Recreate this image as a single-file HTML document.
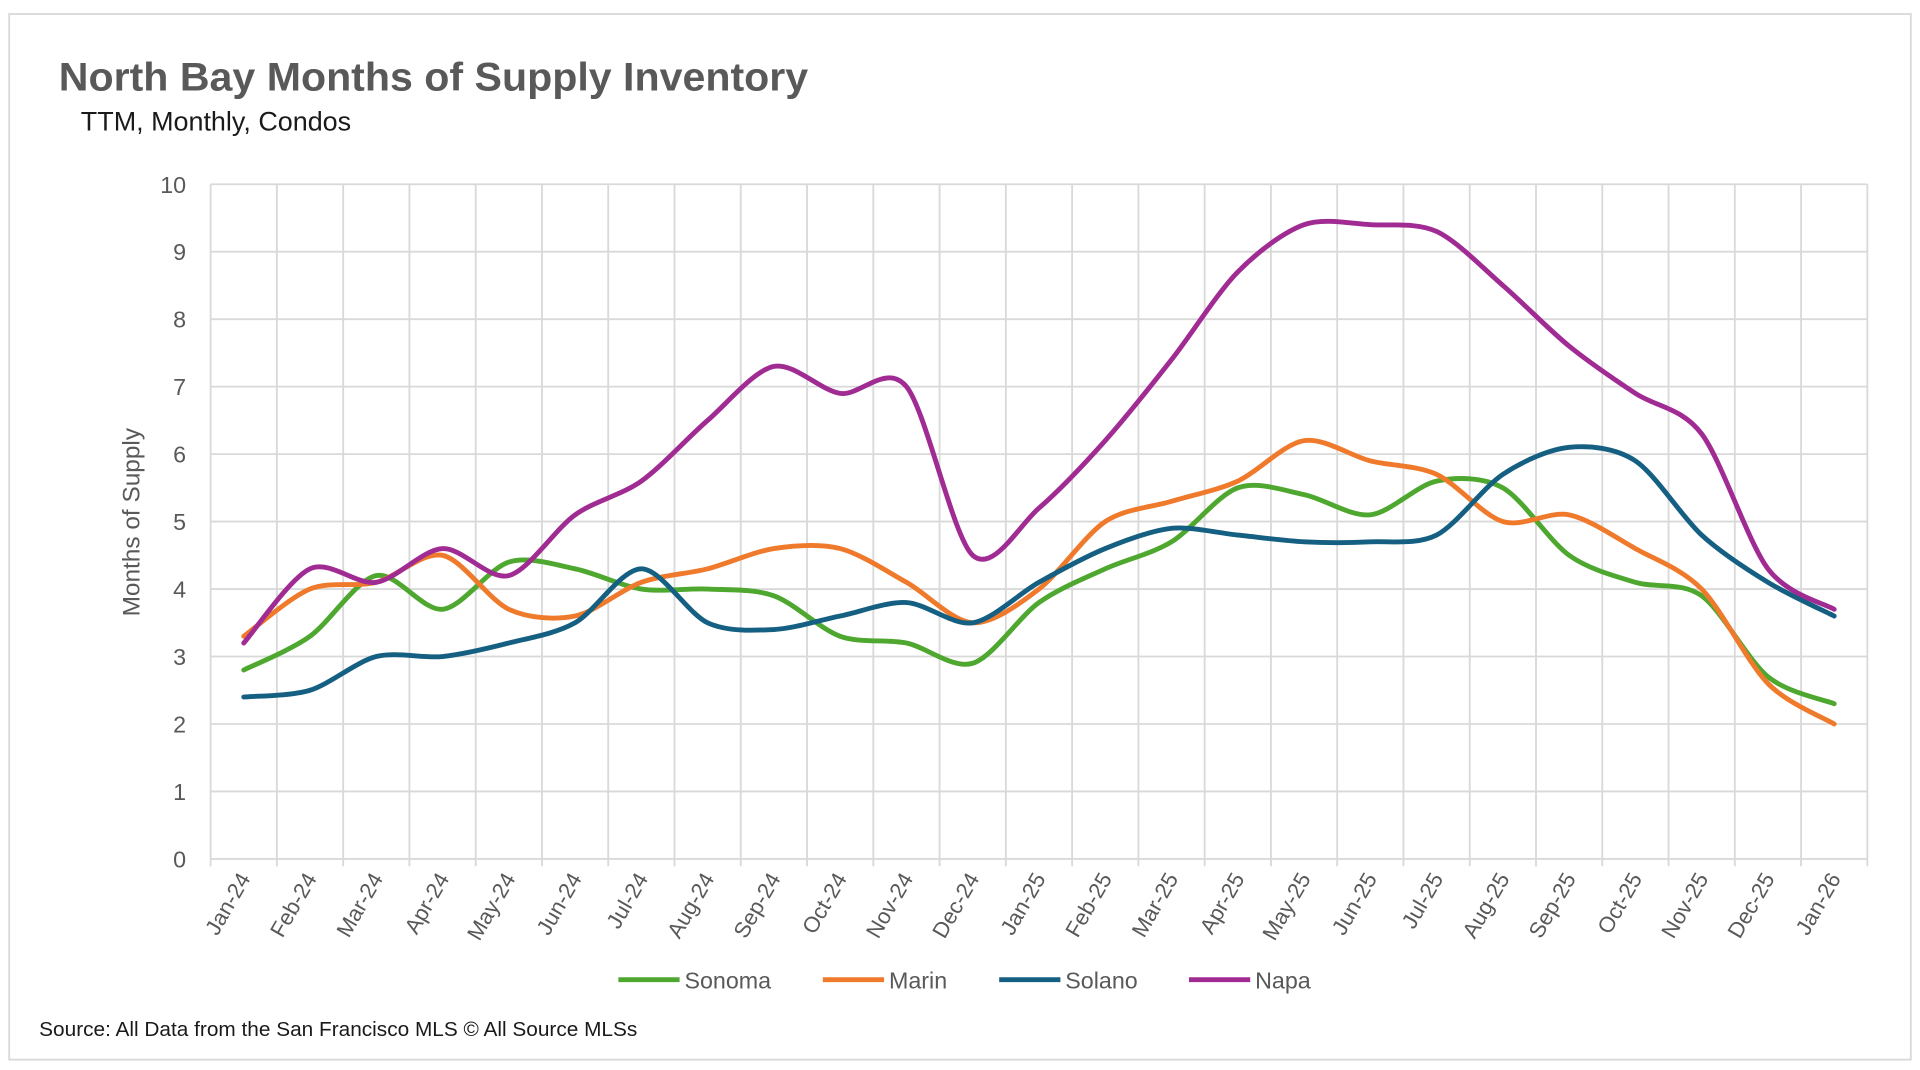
<!DOCTYPE html>
<html><head><meta charset="utf-8"><style>
html,body{margin:0;padding:0;background:#fff;}
svg{display:block;font-family:"Liberation Sans",sans-serif;}
</style></head><body>
<svg id="chart" width="1920" height="1070" viewBox="0 0 1568 877" preserveAspectRatio="none" xmlns="http://www.w3.org/2000/svg">
<rect x="0" y="0" width="1568" height="877" fill="#fff"/>
<rect x="7.5" y="11.5" width="1553" height="857" fill="#fff" stroke="#d9d9d9" stroke-width="1.5"/>
<text x="48" y="74" font-size="33" font-weight="bold" fill="#595959" textLength="612" lengthAdjust="spacingAndGlyphs">North Bay Months of Supply Inventory</text>
<text x="66" y="107" font-size="22" fill="#1a1a1a">TTM, Monthly, Condos</text>
<g id="grid"></g>
<g id="ylabels"></g>
<g id="xlabels"></g>
<g id="series"></g>
<text transform="translate(114,428) rotate(-90)" text-anchor="middle" font-size="20" fill="#595959">Months of Supply</text>
<g id="legend"></g>
<text x="32" y="849" font-size="17" fill="#1a1a1a">Source: All Data from the San Francisco MLS © All Source MLSs</text>
</svg>
<script>
const categories=["Jan-24","Feb-24","Mar-24","Apr-24","May-24","Jun-24","Jul-24","Aug-24","Sep-24","Oct-24","Nov-24","Dec-24","Jan-25","Feb-25","Mar-25","Apr-25","May-25","Jun-25","Jul-25","Aug-25","Sep-25","Oct-25","Nov-25","Dec-25","Jan-26"];
const sonoma=[2.8,3.3,4.2,3.7,4.4,4.3,4.0,4.0,3.9,3.3,3.2,2.9,3.8,4.3,4.7,5.5,5.4,5.1,5.6,5.5,4.5,4.1,3.9,2.7,2.3];
const marin=[3.3,4.0,4.1,4.5,3.7,3.6,4.1,4.3,4.6,4.6,4.1,3.5,4.0,5.0,5.3,5.6,6.2,5.9,5.7,5.0,5.1,4.6,4.0,2.6,2.0];
const solano=[2.4,2.5,3.0,3.0,3.2,3.5,4.3,3.5,3.4,3.6,3.8,3.5,4.1,4.6,4.9,4.8,4.7,4.7,4.8,5.7,6.1,5.9,4.8,4.1,3.6];
const napa=[3.2,4.3,4.1,4.6,4.2,5.1,5.6,6.5,7.3,6.9,7.0,4.5,5.2,6.2,7.4,8.7,9.4,9.4,9.3,8.5,7.6,6.9,6.3,4.3,3.7];
const yTicks=[0,1,2,3,4,5,6,7,8,9,10];
const seriesNames=["Sonoma","Marin","Solano","Napa"];
const seriesColors=["#4ea72e","#f07a2c","#156082","#a02b93"];

const NS="http://www.w3.org/2000/svg";
const L=172,R=1525,T=151,B=704;
const bw=(R-L)/categories.length;
const xs=i=>L+bw*(i+0.5);
const ys=v=>B-(v/10)*(B-T);
function mk(tag,attrs,parent){const e=document.createElementNS(NS,tag);for(const k in attrs)e.setAttribute(k,attrs[k]);parent.appendChild(e);return e;}
const grid=document.getElementById('grid');
yTicks.forEach(t=>{
  const l=mk('line',{x1:L,x2:R,y1:ys(t),y2:ys(t),stroke:'#d9d9d9','stroke-width':1.5},grid);
  
  
  const tx=mk('text',{x:152,y:ys(t)+7,'text-anchor':'end','font-size':19,fill:'#595959'},document.getElementById('ylabels'));
  tx.textContent=t;
  
  
});
for(let i=0;i<=categories.length;i++){
  const x=L+bw*i;
  const l=mk('line',{x1:x,x2:x,y1:T,y2:B+6,stroke:'#d9d9d9','stroke-width':1.5},grid);
  
  
}
categories.forEach((c,i)=>{
  const x=xs(i)+6,y=B+16;
  const tx=mk('text',{x:x,y:y,'text-anchor':'end','font-size':18,fill:'#595959',transform:`rotate(-60 ${x} ${y})`},document.getElementById('xlabels'));
  tx.textContent=c;
  
  
});
function smoothPath(vals){
  const p=vals.map((v,i)=>[xs(i),ys(v)]);
  let d=`M${p[0][0]},${p[0][1]}`;
  const t=0.3;
  for(let i=0;i<p.length-1;i++){
    const p0=p[i-1]||p[i],p1=p[i],p2=p[i+1],p3=p[i+2]||p[i+1];
    const c1=[p1[0]+(p2[0]-p0[0])*t/1.5*0.75,p1[1]+(p2[1]-p0[1])*t/1.5*0.75];
    const c2=[p2[0]-(p3[0]-p1[0])*t/1.5*0.75,p2[1]-(p3[1]-p1[1])*t/1.5*0.75];
    d+=` C${c1[0]},${c1[1]} ${c2[0]},${c2[1]} ${p2[0]},${p2[1]}`;
  }
  return d;
}
const allSeries=[sonoma,marin,solano,napa];
const sg=document.getElementById('series');
allSeries.forEach((s,k)=>{
  const p=mk('path',{d:smoothPath(s),fill:'none',stroke:seriesColors[k],'stroke-width':4,'stroke-linecap':'round','stroke-linejoin':'round'},sg);
  
  
});
const lg=document.getElementById('legend');
const lx=[505,672,816,971];
seriesNames.forEach((n,k)=>{
  const g=mk('g',{},lg);
  
  
  mk('line',{x1:lx[k],x2:lx[k]+50,y1:803,y2:803,stroke:seriesColors[k],'stroke-width':4},g);
  const t=mk('text',{x:lx[k]+54,y:810,'font-size':19,fill:'#595959'},g);
  t.textContent=n;
});
</script>
</body></html>
